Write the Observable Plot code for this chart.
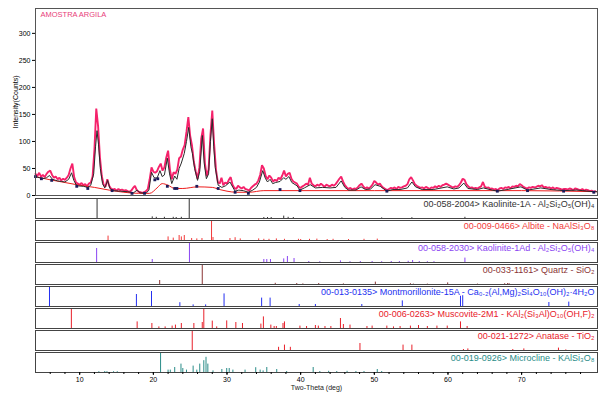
<!DOCTYPE html>
<html><head><meta charset="utf-8">
<script src="https://cdn.jsdelivr.net/npm/d3@7"></script>
<script src="https://cdn.jsdelivr.net/npm/@observablehq/plot@0.6"></script>
<style>
body{margin:0;background:#fff;}
#chart{width:609px;height:398px;position:relative;}
#chart svg{display:block;}
</style></head>
<body><div id="chart"></div>
<script>
// ---------- Data ----------
const title = "AMOSTRA ARGILA";
const yLabel = "Intensity(Counts)";
const xLabel = "Two-Theta (deg)";
const yTicks = [0, 50, 100, 150, 200, 250, 300];
const xTicks = [10, 20, 30, 40, 50, 60, 70];

// observed pattern, 2θ from 4° in 0.25° steps
const obsStart = 4, obsStep = 0.25;
const observed = [
  40,36,42,35,38,34,40,44,46,38,33,35,30,33,28,31,
  29,33,38,50,59,34,24,22,20,23,19,21,17,22,24,35,
  85,161,128,70,36,20,16,30,18,13,11,12,9,12,10,11,
  9,10,8,7,9,14,18,10,7,6,5,6,8,12,30,52,
  44,42,45,53,59,46,52,70,83,48,30,43,40,48,69,72,
  85,93,118,145,110,92,62,45,31,52,105,124,60,36,48,112,
  157,95,48,25,22,33,19,24,22,29,34,20,14,12,18,15,
  13,16,12,11,9,14,17,20,22,28,38,56,50,36,30,37,
  33,26,29,27,33,30,37,46,35,40,42,31,26,24,22,16,
  14,17,19,22,20,33,22,19,17,20,18,22,19,16,20,18,
  17,20,18,21,26,31,35,26,19,15,12,14,11,13,12,15,
  19,22,17,13,15,13,16,20,27,24,20,22,17,14,12,10,
  12,14,13,15,12,16,14,15,17,18,21,30,34,28,21,18,
  16,14,15,13,16,14,12,15,14,17,15,18,16,19,20,22,
  20,18,16,15,17,16,19,24,31,29,21,17,14,15,13,14,
  13,15,17,25,16,14,15,12,13,11,12,10,13,14,12,15,
  14,16,13,17,16,18,17,21,19,16,14,13,15,14,16,15,
  16,18,17,19,15,16,14,15,13,15,12,14,13,12,11,12,
  12,11,13,12,10,13,12,11,10,12,9,11,10,8,9,7,8
];

// fitted profile
const fitTheta = [4.0,4.5,5.0,5.5,5.9,6.3,7.0,7.5,8.0,8.5,8.9,9.2,9.6,10.5,11.1,11.5,11.9,12.15,12.35,12.55,12.8,13.1,13.4,13.8,14.1,14.5,15.5,16.5,17.3,17.8,18.2,19.0,19.4,19.75,20.1,20.5,20.9,21.2,21.5,21.9,22.2,22.5,22.9,23.2,23.5,23.8,24.2,24.5,24.8,25.1,25.3,25.6,26.0,26.3,26.65,26.9,27.2,27.5,27.75,28.0,28.2,28.4,28.8,29.3,29.8,30.4,30.8,31.1,31.6,32.2,32.9,33.5,34.0,34.4,34.85,35.2,35.5,35.85,36.2,36.6,37.2,37.7,38.0,38.4,38.8,39.5,39.9,40.5,41.3,42.0,43.0,44.0,44.8,45.5,46.0,46.5,47.5,48.2,48.8,49.5,50.1,50.8,51.3,51.7,52.5,53.5,54.5,55.1,55.6,56.5,58.0,59.9,60.8,61.5,62.15,62.7,64.0,64.8,66.0,66.7,68.0,69.9,70.8,72.6,74.0,75.7,77.5,79.8,80.3];
const fitCounts = [35,33,31,33,37,30,27,26,25,30,42,28,18,17,15,19,40,90,120,95,50,22,14,28,13,9,8,7,5,10,5,4,10,43,33,32,46,35,38,69,40,22,36,30,50,60,78,100,126,90,78,50,28,45,111,60,31,40,100,142,90,52,19,15,18,25,15,8,10,9,6,10,15,25,46,32,25,30,22,24,26,33,30,35,24,18,10,14,20,14,15,14,15,27,15,10,10,16,11,12,20,17,12,8,11,11,14,25,16,11,11,16,12,14,23,13,11,14,10,8,11,16,10,14,11,9,10,7,7];

// background
const bgTheta = [4,6,8,10,12,14,16,18,19.5,20.5,21.2,22,22.9,24,26,28,29,30,31.3,33,35,40,50,60,70,80.3];
const bgCounts = [35,29,24,19,15,10,6,4,4,14,22,19,13,13,16,15,11,8,6,6,9,9,9,9,9,7];

// background anchor points
const anchorTheta = [4.0,4.8,6.2,9.6,11.1,14.4,17.1,18.8,20.2,20.6,21.9,22.9,23.2,25.9,28.8,31.1,32.9,37.2,39.9,51.7,66.7,70.8,75.7,79.8];
const anchorCounts = [35,31,28,17,13,9,4,4,29,31,17,13,13,17,13,6,4,11,9,8,8,9,8,6];

// reference phases
const phaseKeys = ["kaol1A","albite","kaol1Ad","quartz","mont","musc","anat","micro"];
const phaseLabels = [
  "00-058-2004> Kaolinite-1A - Al₂Si₂O₅(OH)₄",
  "00-009-0466> Albite - NaAlSi₃O₈",
  "00-058-2030> Kaolinite-1Ad - Al₂Si₂O₅(OH)₄",
  "00-033-1161> Quartz - SiO₂",
  "00-013-0135> Montmorillonite-15A - Ca₀.₂(Al,Mg)₂Si₄O₁₀(OH)₂·4H₂O",
  "00-006-0263> Muscovite-2M1 - KAl₂(Si₃Al)O₁₀(OH,F)₂",
  "00-021-1272> Anatase - TiO₂",
  "00-019-0926> Microcline - KAlSi₃O₈"
];
const phaseColors = ["#333333","#f23a3a","#8a44f2","#8b3535","#2430f0","#e8202a","#e8202a","#2a8c88"];

const kaol1A_t = [12.36,19.85,20.4,21.5,22.7,23.1,23.8,24.87,35.0,35.5,36.0,37.7,38.3,39.0,45.6,51.0,55.1,62.3];
const kaol1A_i = [100,8,6,6,6,5,6,100,5,5,5,12,6,5,3,3,4,6];
const albite_t = [13.85,22.0,22.7,23.5,23.8,24.2,25.2,25.9,26.6,27.9,28.1,30.4,31.1,31.8,34.3,35.0,35.7,36.7,37.8,39.7,40.0,41.2,42.2,43.6,44.4,46.5,48.6,50.4];
const albite_i = [22,18,12,25,18,25,10,8,10,100,15,10,14,8,8,6,6,8,6,6,5,6,7,5,6,5,6,7];
const kaol1Ad_t = [12.3,19.85,24.9,35.0,35.4,35.9,37.7,38.2,39.1,41.1,42.6,45.4,46.7,48.1,49.7,51.0,52.3,53.4,54.6,55.2,56.1,57.2,58.1,62.3];
const kaol1Ad_i = [70,15,100,15,15,15,18,30,20,5,4,8,4,5,5,4,5,5,6,10,5,4,4,22];
const quartz_t = [20.86,26.64,36.55,39.47,40.3,42.45,45.8,50.14,54.9,55.3,57.2,59.96,64.0,67.7,68.1,68.3];
const quartz_i = [20,100,6,5,3,5,3,12,4,2,2,8,2,4,5,4];
const mont_t = [5.9,17.7,19.75,23.6,25.4,27.1,29.6,34.7,35.85,39.8,42.0,48.3,53.8,61.7,62.0,73.7,76.4];
const mont_i = [100,60,75,19,8,8,63,42,42,10,10,10,28,54,54,20,22];
const musc_t = [8.87,17.8,19.8,20.75,21.6,22.55,23.0,23.8,25.5,26.64,26.85,28.0,28.6,29.96,31.2,32.1,34.6,34.94,35.95,36.4,36.7,37.6,37.8,39.9,40.8,42.0,42.4,43.3,44.1,45.4,45.8,46.7,49.0,49.7,51.7,52.6,53.5,54.9,56.0,57.2,58.5,59.9,61.7,62.6];
const musc_i = [100,33,25,8,8,12,17,25,25,30,100,37,8,38,30,25,22,58,17,10,10,25,33,12,10,15,12,10,10,50,20,17,10,12,12,8,10,12,15,10,12,12,33,10];
const anat_t = [25.28,37.0,37.8,38.6,48.05,53.9,55.1,62.1,62.7,68.8,70.3,75.0,76.0];
const anat_i = [100,16,27,16,35,27,27,5,8,5,8,12,3];
const micro_t = [12.6,13.4,13.7,14.6,15.1,20.98,22.0,22.3,22.9,23.75,24.0,24.5,25.4,25.9,26.3,26.85,27.15,27.4,28.1,29.3,29.96,30.3,30.8,32.45,33.9,34.5,34.9,35.4,36.75,38.1,41.7,42.6,43.8,44.9,46.3,47.5,48.6,50.4,51.0];
const micro_i = [4,5,4,4,4,100,12,12,25,42,20,12,32,12,42,59,76,42,8,15,20,20,12,12,24,12,8,25,15,5,25,5,6,5,6,5,5,15,5];

// ---------- Tables ----------
const obsRows = observed.map((c, i) => ({t: obsStart + i * obsStep, c}));
const fitRows = fitTheta.map((t, i) => ({t, c: fitCounts[i]}));
const bgRows = bgTheta.map((t, i) => ({t, c: bgCounts[i]}));
const anchorRows = anchorTheta.map((t, i) => ({t, c: anchorCounts[i]}));
const stickSets = {
  kaol1A: [kaol1A_t, kaol1A_i], albite: [albite_t, albite_i], kaol1Ad: [kaol1Ad_t, kaol1Ad_i],
  quartz: [quartz_t, quartz_i], mont: [mont_t, mont_i], musc: [musc_t, musc_i],
  anat: [anat_t, anat_i], micro: [micro_t, micro_i]
};
const phaseRows = phaseKeys.map((k, i) => ({key: k, label: phaseLabels[i], color: phaseColors[i]}));
const stickRows = phaseKeys.flatMap((k, p) => stickSets[k][0].map((t, j) => ({key: k, t, rel: stickSets[k][1][j], color: phaseColors[p]})));

const font = "Liberation Sans, Arial, Helvetica, sans-serif";
const xDomain = [4, 80.3];

// ---------- Main pattern ----------
const main = Plot.plot({
  width: 609, height: 198,
  marginLeft: 35, marginRight: 12, marginTop: 8, marginBottom: 3,
  style: {fontFamily: font, fontSize: "7px", background: "#fff"},
  x: {domain: xDomain, axis: null},
  y: {domain: [0, 346]},
  marks: [
    Plot.line(obsRows, {x: "t", y: "c", stroke: "#f5226b", strokeWidth: 1.9, strokeLinejoin: "miter"}),
    Plot.line(bgRows, {x: "t", y: "c", stroke: "#ee1c1c", strokeWidth: 1, curve: "monotone-x"}),
    Plot.line(fitRows, {x: "t", y: "c", stroke: "#2a2a2a", strokeWidth: 1}),
    Plot.dot(anchorRows, {x: "t", y: "c", r: 1.6, symbol: "square", fill: "#1b1b5a"}),
    Plot.axisY({ticks: yTicks, tickSize: 3, tickPadding: 2, label: yLabel, labelAnchor: "center", labelArrow: "none", labelOffset: 22, fontSize: 7}),
    Plot.text([title], {frameAnchor: "top-left", dx: 5, dy: 3, lineAnchor: "top", textAnchor: "start", fill: "#e8407a", fontSize: 7.5}),
    Plot.frame({stroke: "#555"})
  ]
});

// ---------- Reference sticks ----------
const sticks = Plot.plot({
  width: 609, height: 200,
  marginLeft: 35, marginRight: 12, marginTop: 0, marginBottom: 26,
  style: {fontFamily: font, fontSize: "7px", background: "#fff"},
  x: {domain: xDomain},
  y: {domain: [0, 100], axis: null},
  fy: {domain: phaseKeys, paddingInner: 0.11, paddingOuter: 0, axis: null},
  marks: [
    Plot.ruleX(stickRows, {x: "t", y1: 0, y2: "rel", fy: "key", stroke: "color", strokeWidth: 1}),
    Plot.frame({stroke: "#444"}),
    Plot.text(phaseRows, {fy: "key", text: "label", fill: "color", frameAnchor: "top-right", textAnchor: "end", lineAnchor: "top", dx: -3, dy: 2, fontSize: 9, stroke: "white", strokeWidth: 2, paintOrder: "stroke"}),
    Plot.axisX({ticks: d3.range(6, 80, 2), tickSize: 2, tickFormat: () => "", label: null}),
    Plot.axisX({ticks: xTicks, tickSize: 3, tickPadding: 2, label: null, fontSize: 7}),
    Plot.text([xLabel], {fy: [phaseKeys[7]], frameAnchor: "bottom", dy: 15, lineAnchor: "middle", fontSize: 7, fill: "#222"})
  ]
});

const chart = document.getElementById("chart");
chart.appendChild(main);
chart.appendChild(sticks);
</script>
</body></html>
